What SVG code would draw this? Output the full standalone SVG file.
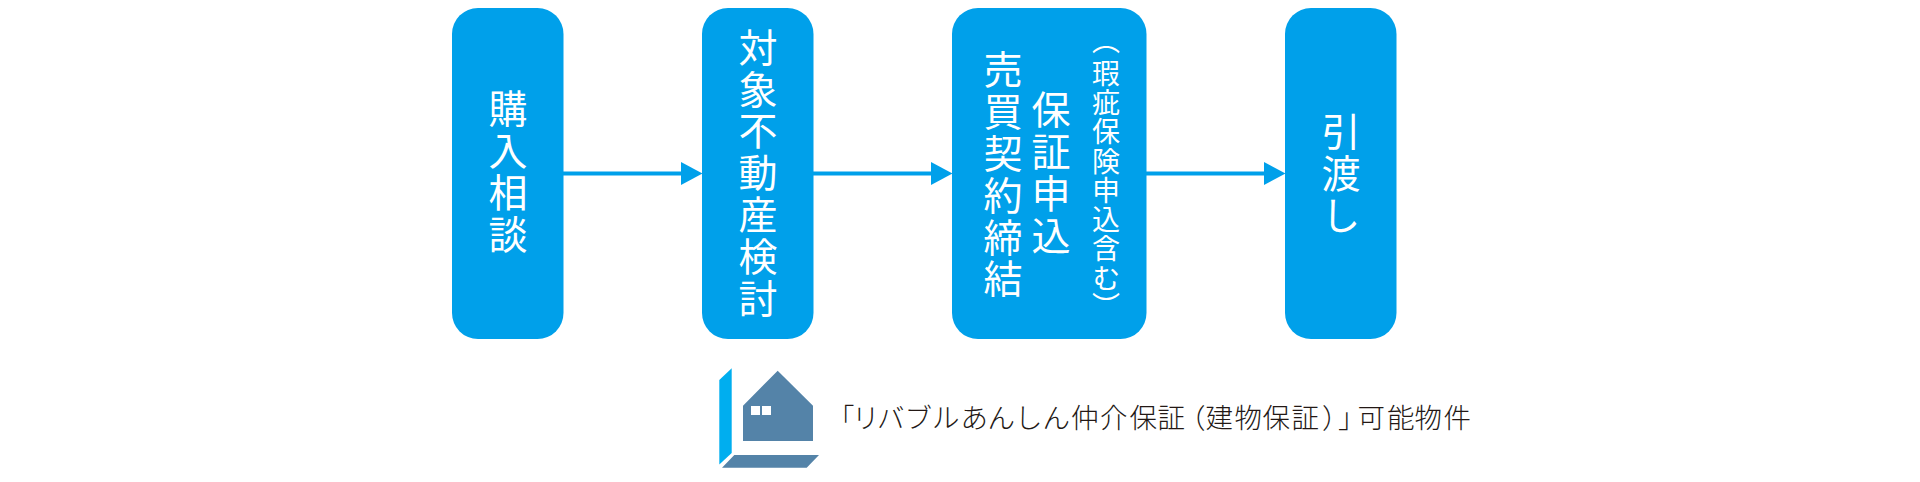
<svg xmlns="http://www.w3.org/2000/svg" width="1920" height="482" viewBox="0 0 1920 482">
<style>
.box{fill:#00a0ea}
.v{font-family:"Noto Sans CJK JP","Noto Sans",sans-serif;fill:#fff;writing-mode:vertical-rl;font-size:39px;letter-spacing:2.8px}
.s{font-size:28px;letter-spacing:1.3px}
.l{font-family:"Noto Sans CJK JP","Noto Sans",sans-serif;fill:#231815;font-size:27.500px;font-weight:300}
.line{stroke:#00a0ea;stroke-width:4;fill:none}
.head{fill:#00a0ea}
</style>
<rect width="1920" height="482" fill="#fff"/>
<g id="connectors">
<path class="line" d="M563 173.500H682"/><path class="head" d="M681 162L702.500 173.500L681 185Z"/>
<path class="line" d="M813 173.500H932"/><path class="head" d="M931 162L952.500 173.500L931 185Z"/>
<path class="line" d="M1146 173.500H1265"/><path class="head" d="M1264 162L1285.500 173.500L1264 185Z"/>
</g>
<g id="node-1"><rect class="box" x="452" y="8" width="111.500" height="331" rx="26"/>
<text class="v" x="508" y="89">購入相談</text></g>
<g id="node-2"><rect class="box" x="702" y="8" width="111.500" height="331" rx="26"/>
<text class="v" x="758" y="27.500">対象不動産検討</text></g>
<g id="node-3"><rect class="box" x="952" y="8" width="194.500" height="331" rx="26"/>
<text class="v" x="1003" y="50">売買契約締結</text>
<text class="v" x="1051" y="90">保証申込</text>
<text class="v s" x="1106" y="26">（</text>
<text class="v s" x="1106" y="59">瑕疵保険申込含む</text>
<text class="v s" x="1106" y="292">）</text></g>
<g id="node-4"><rect class="box" x="1285" y="8" width="111.500" height="331" rx="26"/>
<text class="v" x="1341" y="112">引渡し</text></g>
<g id="legend">
<path fill="#00aeef" d="M719.300 380L731.700 368.300V453L719.300 464.500Z"/>
<path fill="#5483a8" d="M734.300 455H819L806.700 467.700H722ZM743 405.700L777.700 370.700L813 405.700V441H743Z"/>
<path fill="#fff" d="M751 406h9v9h-9ZM762 406h9v9h-9Z"/>
<text class="l" y="428" x="827 852 877 904.500 932 960.500 987.500 1015 1042.500 1071 1100 1129.500 1157.500 1178 1205.500 1234.500 1262.500 1291.500 1322 1338 1357.500 1387 1414.500 1443.500">「リバブルあんしん仲介保証（建物保証）」可能物件</text>
</g>
</svg>
